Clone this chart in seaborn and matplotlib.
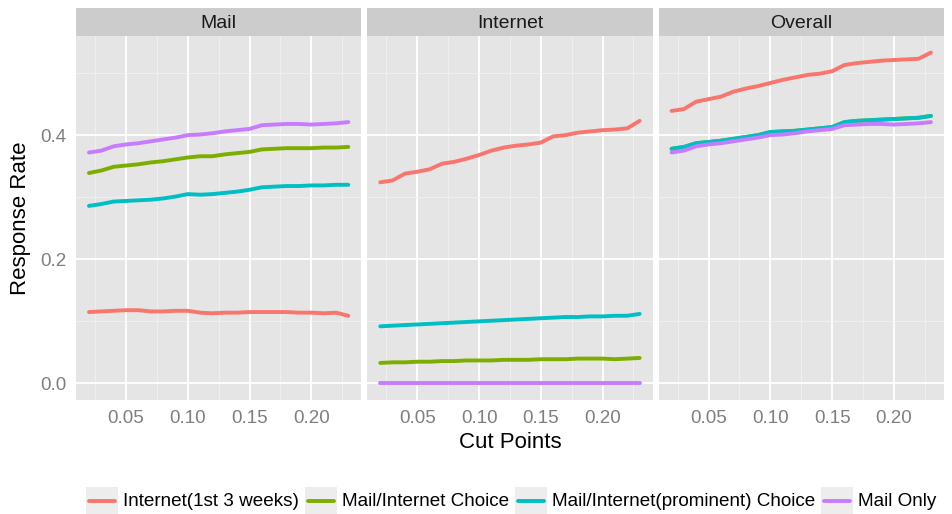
import matplotlib
matplotlib.use("Agg")
import matplotlib.pyplot as plt
import numpy as np
import pandas as pd
import seaborn as sns
from matplotlib.patches import Rectangle
from matplotlib.lines import Line2D
from matplotlib.ticker import FixedLocator

sns.set_style("white")
plt.rcParams["font.family"] = ["Liberation Sans", "DejaVu Sans"]

# ---- data -------------------------------------------------------------
cut_points = [0.02, 0.03, 0.04, 0.05, 0.06, 0.07, 0.08, 0.09, 0.10, 0.11, 0.12,
              0.13, 0.14, 0.15, 0.16, 0.17, 0.18, 0.19, 0.20, 0.21, 0.22, 0.23]

panels = ["Mail", "Internet", "Overall"]
groups = ["Internet(1st 3 weeks)", "Mail/Internet Choice",
          "Mail/Internet(prominent) Choice", "Mail Only"]
colors = ["#F8766D", "#7CAE00", "#00BFC4", "#C77CFF"]

# Mail responses
mail_internet = [0.115, 0.116, 0.117, 0.118, 0.118, 0.116, 0.116, 0.117, 0.117, 0.114, 0.113,
                 0.114, 0.114, 0.115, 0.115, 0.115, 0.115, 0.114, 0.114, 0.113, 0.114, 0.109]
mail_choice = [0.339, 0.343, 0.349, 0.351, 0.353, 0.356, 0.358, 0.361, 0.364, 0.366, 0.366,
               0.369, 0.371, 0.373, 0.377, 0.378, 0.379, 0.379, 0.379, 0.380, 0.380, 0.381]
mail_prominent = [0.286, 0.289, 0.293, 0.294, 0.295, 0.296, 0.298, 0.301, 0.305, 0.304, 0.305,
                  0.307, 0.309, 0.312, 0.316, 0.317, 0.318, 0.318, 0.319, 0.319, 0.320, 0.320]
mail_only = [0.372, 0.375, 0.382, 0.385, 0.387, 0.390, 0.393, 0.396, 0.400, 0.401, 0.403,
             0.406, 0.408, 0.410, 0.416, 0.417, 0.418, 0.418, 0.417, 0.418, 0.419, 0.421]

# Internet responses
inet_internet = [0.324, 0.327, 0.338, 0.341, 0.345, 0.354, 0.357, 0.362, 0.368, 0.375, 0.380,
                 0.383, 0.385, 0.388, 0.398, 0.400, 0.404, 0.406, 0.408, 0.409, 0.411, 0.423]
inet_choice = [0.033, 0.034, 0.034, 0.035, 0.035, 0.036, 0.036, 0.037, 0.037, 0.037, 0.038,
               0.038, 0.038, 0.039, 0.039, 0.039, 0.040, 0.040, 0.040, 0.039, 0.040, 0.041]
inet_prominent = [0.092, 0.093, 0.094, 0.095, 0.096, 0.097, 0.098, 0.099, 0.100, 0.101, 0.102,
                  0.103, 0.104, 0.105, 0.106, 0.107, 0.107, 0.108, 0.108, 0.109, 0.109, 0.112]
inet_mail_only = [0.0, 0.0, 0.0, 0.0, 0.0, 0.0, 0.0, 0.0, 0.0, 0.0, 0.0,
                  0.0, 0.0, 0.0, 0.0, 0.0, 0.0, 0.0, 0.0, 0.0, 0.0, 0.0]

# Overall responses (the two choice arms coincide here)
all_internet = [0.439, 0.442, 0.454, 0.458, 0.462, 0.470, 0.475, 0.479, 0.484, 0.489, 0.493,
                0.497, 0.499, 0.503, 0.513, 0.516, 0.518, 0.520, 0.521, 0.522, 0.523, 0.533]
all_choice = [0.378, 0.381, 0.387, 0.389, 0.391, 0.394, 0.397, 0.400, 0.405, 0.406, 0.407,
              0.409, 0.411, 0.413, 0.421, 0.423, 0.424, 0.425, 0.426, 0.427, 0.428, 0.431]
all_prominent = [0.378, 0.381, 0.387, 0.389, 0.391, 0.394, 0.397, 0.400, 0.405, 0.406, 0.407,
                 0.409, 0.411, 0.413, 0.421, 0.423, 0.424, 0.425, 0.426, 0.427, 0.428, 0.431]
all_mail_only = [0.372, 0.375, 0.382, 0.385, 0.387, 0.390, 0.393, 0.396, 0.400, 0.401, 0.403,
                 0.406, 0.408, 0.410, 0.416, 0.417, 0.418, 0.418, 0.417, 0.418, 0.419, 0.421]

series = {
    "Mail": [mail_internet, mail_choice, mail_prominent, mail_only],
    "Internet": [inet_internet, inet_choice, inet_prominent, inet_mail_only],
    "Overall": [all_internet, all_choice, all_prominent, all_mail_only],
}

rows = []
for p in panels:
    for g, vals in zip(groups, series[p]):
        for c, v in zip(cut_points, vals):
            rows.append({"panel": p, "group": g, "cut": c, "rate": v})
df = pd.DataFrame(rows)

# ---- layout (pixel geometry on a 952 x 514 canvas) -----------------------
W, H = 952, 514
fig = plt.figure(figsize=(W / 100, H / 100), dpi=100)
fig.patch.set_facecolor("white")

def fx(px):
    return px / W

def fy(py):
    return 1 - py / H

panel_left = [76.0, 367.3, 658.6]
panel_w = 285.3
panel_top, panel_bot = 36.0, 400.0
strip_top = 8.0

bg = "#E5E5E5"
tick_col = "#7F7F7F"

for i, p in enumerate(panels):
    ax = fig.add_axes([fx(panel_left[i]), fy(panel_bot), panel_w / W,
                       (panel_bot - panel_top) / H])
    ax.set_facecolor(bg)
    for s in ax.spines.values():
        s.set_visible(False)
    sub = df[df["panel"] == p]
    sns.lineplot(data=sub, x="cut", y="rate", hue="group", hue_order=groups,
                 palette=colors, linewidth=2.8, estimator=None, sort=False,
                 legend=False, ax=ax)
    ax.set_xlim(0.0095, 0.2405)
    ax.set_ylim(-0.0267, 0.5597)
    ax.xaxis.set_major_locator(FixedLocator([0.05, 0.10, 0.15, 0.20]))
    ax.xaxis.set_minor_locator(FixedLocator([0.025, 0.075, 0.125, 0.175, 0.225]))
    ax.yaxis.set_major_locator(FixedLocator([0.0, 0.2, 0.4]))
    ax.yaxis.set_minor_locator(FixedLocator([0.1, 0.3, 0.5]))
    ax.set_xticklabels(["0.05", "0.10", "0.15", "0.20"])
    ax.set_yticklabels(["0.0", "0.2", "0.4"])
    ax.set_axisbelow(True)
    ax.grid(which="major", color="white", linewidth=1.3)
    ax.grid(which="minor", color="#F2F2F2", linewidth=0.6)
    ax.tick_params(which="major", length=4.5, width=1.3, color=tick_col,
                   labelcolor=tick_col, labelsize=13.5, pad=2.5)
    ax.tick_params(which="minor", length=0)
    if i > 0:
        ax.tick_params(axis="y", which="major", length=0, labelleft=False)
    ax.set_xlabel("")
    ax.set_ylabel("")

    # facet strip
    sax = fig.add_axes([fx(panel_left[i]), fy(panel_top), panel_w / W,
                        (panel_top - strip_top) / H])
    sax.set_facecolor("#CCCCCC")
    sax.set_xticks([])
    sax.set_yticks([])
    for s in sax.spines.values():
        s.set_visible(False)
    sax.text(0.5, 0.45, p, ha="center", va="center", fontsize=14,
             color="#1A1A1A", transform=sax.transAxes)

fig.text(fx(21), fy(218), "Response Rate", rotation=90, ha="center",
         va="center", fontsize=16, color="black")
fig.text(fx(510), fy(443), "Cut Points", ha="center", va="center",
         fontsize=16, color="black")

# ---- legend along the bottom ---------------------------------------------
fig.canvas.draw()
renderer = fig.canvas.get_renderer()
leg_fs = 13.6
key_w, gap_in, gap_out = 32.0, 5.0, 6.0
widths = []
for g in groups:
    t = fig.text(0, 0, g, fontsize=leg_fs)
    widths.append(t.get_window_extent(renderer).width)
    t.remove()
total = sum(key_w + gap_in + w for w in widths) + gap_out * (len(groups) - 1)
x = 511 - total / 2
leg_y = 501
for g, c, w in zip(groups, colors, widths):
    fig.patches.append(Rectangle((fx(x), fy(518)), key_w / W, 31 / H,
                                 transform=fig.transFigure, facecolor="#EDEDED",
                                 edgecolor="none"))
    fig.lines.append(Line2D([fx(x + 3), fx(x + key_w - 3)], [fy(leg_y), fy(leg_y)],
                            transform=fig.transFigure, color=c, linewidth=2.8))
    fig.text(fx(x + key_w + gap_in), fy(leg_y), g, ha="left", va="center",
             fontsize=leg_fs, color="black")
    x += key_w + gap_in + w + gap_out

fig.savefig("out.png", dpi=100)
